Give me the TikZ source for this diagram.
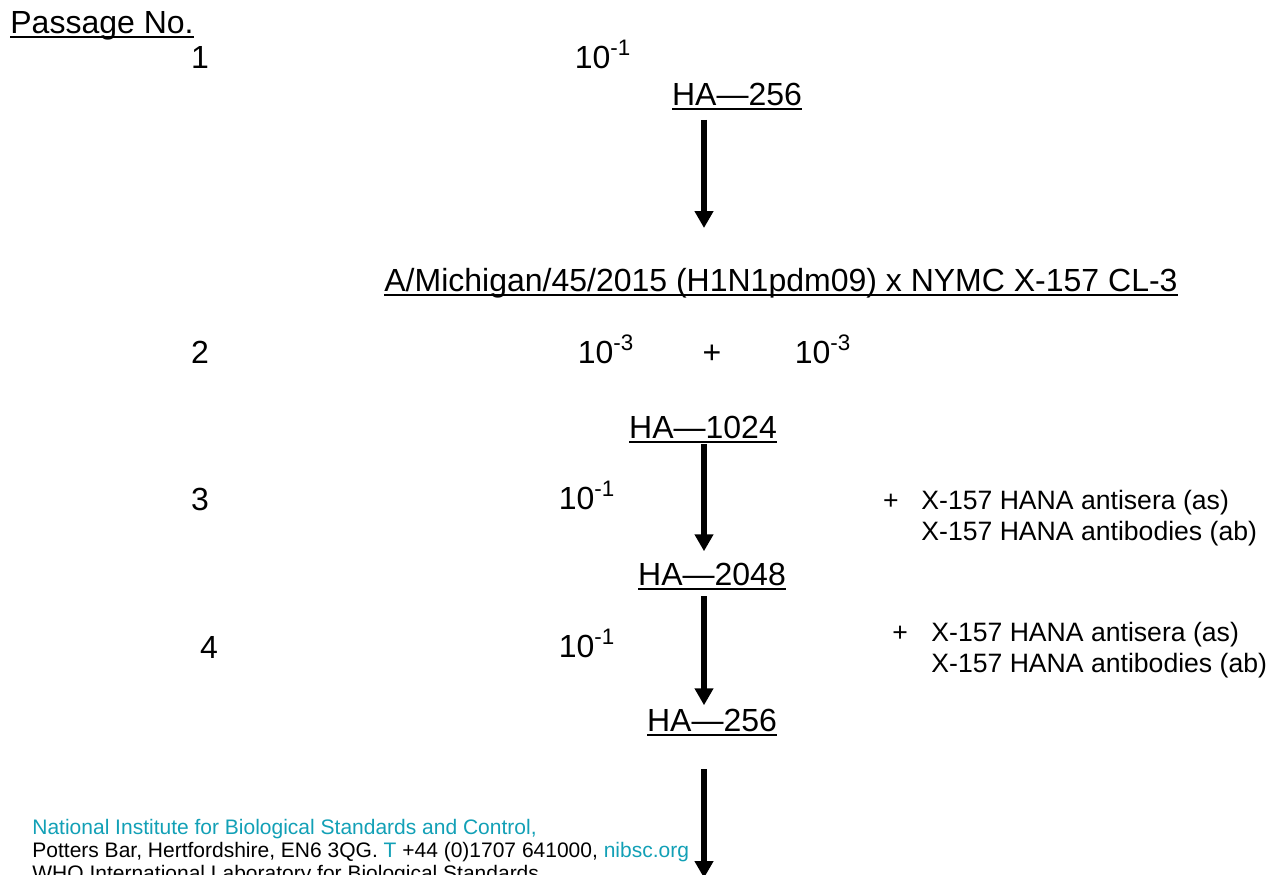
\documentclass[tikz,border=0pt]{standalone}
\usepackage{fontspec}
\setmainfont{Liberation Sans}
\usepackage{tikz}
\usetikzlibrary{positioning}
\usetikzlibrary{arrows.meta}
\definecolor{nibscteal}{RGB}{18,160,182}
\newcommand{\ulined}[1]{\leavevmode\setbox0\hbox{#1}\rlap{\rule[-0.17em]{\wd0}{0.08em}}\box0}

\begin{document}
\begin{tikzpicture}[
    x=0.5pt, y=-0.5pt,
    txt/.style={
        inner sep=0pt,
        anchor=base,
        font=\fontsize{16}{19}\selectfont
    },
    side/.style={
        inner sep=0pt,
        anchor=north west,
        align=left,
        font=\fontsize{13.3}{15.3}\selectfont
    },
    foot/.style={
        inner sep=0pt,
        anchor=north west,
        align=left,
        font=\fontsize{10.5}{11.5}\selectfont
    },
    arrow/.style={
        -{Triangle[length=8.5pt,width=9pt]},
        line width=3pt
    }
]
    \clip (0,0) rectangle (1272,874);
    \coordinate (ax) at (704,0);

    % --- Passage numbers on the left ---
    \node[txt, anchor=base west] (passage) at (10,33) {\ulined{Passage No.}};
    \node[txt] (p1) at (200,68)  {1};
    \node[txt] (p2) at (200,363) {2};
    \node[txt] (p3) at (200,510) {3};
    \node[txt] (p4) at (209,658) {4};

    % --- Dilutions ---
    \node[txt] (dil1)  at (603,68)  {10\textsuperscript{-1}};
    \node[txt] (dil2a) at (606,363) {10\textsuperscript{-3}};
    \node[txt] (plus)  at (712,363) {+};
    \node[txt] (dil2b) at (823,363) {10\textsuperscript{-3}};
    \node[txt] (dil3)  at (587,509) {10\textsuperscript{-1}};
    \node[txt] (dil4)  at (587,657) {10\textsuperscript{-1}};

    % --- HA titres and the reassortant ---
    \node[txt] (ha1)   at (737,105) {\ulined{HA---256}};
    \node[txt] (virus) at (781,291) {\ulined{A/Michigan/45/2015 (H1N1pdm09) x NYMC X-157 CL-3}};
    \node[txt] (ha2)   at (703,438) {\ulined{HA---1024}};
    \node[txt] (ha3)   at (712,585) {\ulined{HA---2048}};
    \node[txt] (ha4)   at (712,731) {\ulined{HA---256}};
    \coordinate (out) at (704,878);

    % --- Added antisera / antibodies ---
    \node[txt, font=\fontsize{13.3}{15}\selectfont] (plus3) at (891,509) {+};
    \node[side] (add3) at (921,490) {X-157 HANA antisera (as)\\X-157 HANA antibodies (ab)};
    \node[txt, font=\fontsize{13.3}{15}\selectfont] (plus4) at (900,641) {+};
    \node[side] (add4) at (931,622) {X-157 HANA antisera (as)\\X-157 HANA antibodies (ab)};

    % --- Passage arrows ---
    \draw[arrow, shorten <=4.5pt, shorten >=19.7pt] (ha1.south -| ax) -- (virus.north -| ax);
    \draw[arrow, shorten >=5.5pt]                   (ha2.south -| ax) -- (ha3.north -| ax);
    \draw[arrow, shorten <=2.8pt, shorten >=1.5pt]  (ha3.south -| ax) -- (ha4.north -| ax);
    \draw[arrow, shorten <=16.3pt]                  (ha4.south -| ax) -- (out);

    % --- Footer ---
    \node[foot] (footer) at (32,819) {{\color{nibscteal}National Institute for Biological Standards and Control,}\\
        Potters Bar, Hertfordshire, EN6 3QG. {\color{nibscteal}T} +44 (0)1707 641000, {\color{nibscteal}nibsc.org}\\
        WHO International Laboratory for Biological Standards};
\end{tikzpicture}
\end{document}
